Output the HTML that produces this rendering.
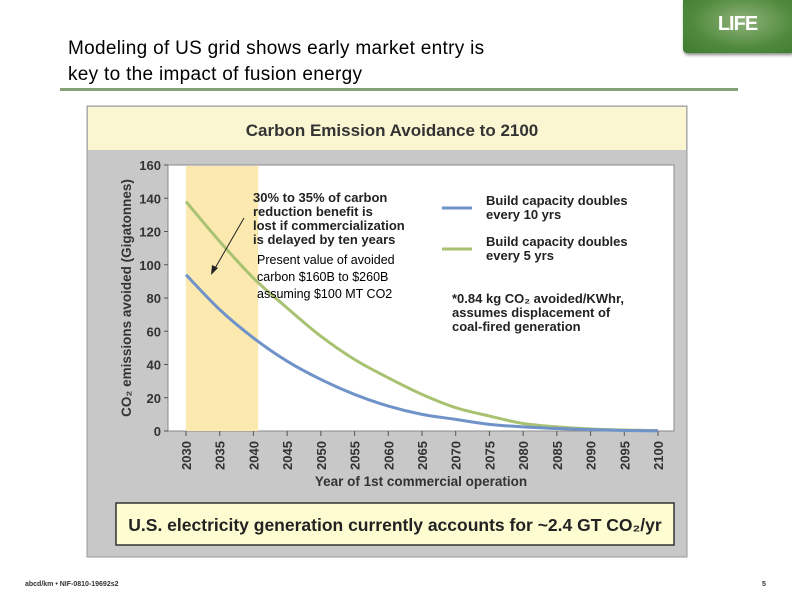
<!DOCTYPE html>
<html><head><meta charset="utf-8"><style>
body{margin:0;width:792px;height:594px;background:#fff;position:relative;overflow:hidden;font-family:"Liberation Sans",Arial,sans-serif}
.abs{position:absolute}
</style></head><body>
<div class="abs" style="left:68px;top:36px;font-size:19px;line-height:26px;color:#000;letter-spacing:0.3px">Modeling of US grid shows early market entry is<br>key to the impact of fusion energy</div>
<div class="abs" style="left:683px;top:0;width:109px;height:53px;background:radial-gradient(ellipse at 55% 40%,#8fb27a,#4f8a3c 60%,#3f7a30);border-radius:0 0 0 4px;box-shadow:1px 2px 3px #888;color:#fff;font-weight:bold;font-size:20px;text-align:center;line-height:48px;letter-spacing:-1px">LIFE</div>
<div class="abs" style="left:60px;top:88px;width:678px;height:3px;background:#86a07a"></div>
<svg class="abs" style="left:0;top:0" width="792" height="594" id="chart">
<rect x="87" y="106" width="600" height="451" fill="#c8c8c8" stroke="#999"/>
<rect x="88" y="107" width="598" height="43" fill="#fbf6d2"/>
<text x="392" y="136" text-anchor="middle" font-size="17" font-weight="bold" fill="#333">Carbon Emission Avoidance to 2100</text>
<rect x="168" y="165" width="506" height="266" fill="#fff" stroke="#888"/>
<g id="plot"></g>
<text transform="translate(131,298) rotate(-90)" text-anchor="middle" font-size="13.5" font-weight="bold" fill="#333">CO₂ emissions avoided (Gigatonnes)</text>
<text x="421" y="486" text-anchor="middle" font-size="13.5" font-weight="bold" fill="#333">Year of 1st commercial operation</text>
<g font-size="13" font-weight="bold" fill="#222">
<text x="253" y="202"><tspan x="253">30% to 35% of carbon</tspan><tspan x="253" dy="14">reduction benefit is</tspan><tspan x="253" dy="14">lost if commercialization</tspan><tspan x="253" dy="14">is delayed by ten years</tspan></text>
<text x="486" y="205"><tspan x="486">Build capacity doubles</tspan><tspan x="486" dy="14">every 10 yrs</tspan></text>
<text x="486" y="246"><tspan x="486">Build capacity doubles</tspan><tspan x="486" dy="14">every 5 yrs</tspan></text>
<text x="452" y="303"><tspan x="452">*0.84 kg CO₂ avoided/KWhr,</tspan><tspan x="452" dy="14">assumes displacement of</tspan><tspan x="452" dy="14">coal-fired generation</tspan></text>
</g>
<text font-size="12.5" fill="#000"><tspan x="257" y="264">Present value of avoided</tspan><tspan x="257" dy="17">carbon $160B to $260B</tspan><tspan x="257" dy="17">assuming $100 MT CO2</tspan></text>
<line x1="442" y1="208" x2="472" y2="208" stroke="#6f93c8" stroke-width="3"/>
<line x1="442" y1="249" x2="472" y2="249" stroke="#a9c271" stroke-width="3"/>
<line x1="244" y1="218" x2="214" y2="270" stroke="#222" stroke-width="1"/>
<polygon points="211,275 212,265 218,268" fill="#222"/>
<rect x="116" y="503" width="558" height="42" fill="#fefdd2" stroke="#333" stroke-width="1.5"/>
<text x="395" y="531" text-anchor="middle" font-size="17.5" font-weight="bold" fill="#222">U.S. electricity generation currently accounts for ~2.4 GT CO₂/yr</text>
<text x="25" y="586" font-size="7" font-weight="bold" fill="#333">abcd/km  •  NIF-0810-19692s2</text>
<text x="762" y="586" font-size="7" font-weight="bold" fill="#333">5</text>
</svg>
<script>
const years=[2030,2035,2040,2045,2050,2055,2060,2065,2070,2075,2080,2085,2090,2095,2100];
const green=[138,114,92,74,57,43,32,22,14,9,4.5,2.5,1.2,0.6,0.2];
const blue=[94,73,56,42,31,22,15,10,7,4,2.5,1.5,0.8,0.3,0.1];
const yTicks=[0,20,40,60,80,100,120,140,160];
const NS='http://www.w3.org/2000/svg';
const X=y=>186+(y-2030)*(658-186)/70;
const Y=v=>431-v*(431-165)/160;
const g=document.getElementById('plot');
function mk(t,a){const e=document.createElementNS(NS,t);for(const k in a)e.setAttribute(k,a[k]);g.appendChild(e);return e;}
const sh=mk('rect',{x:X(2030),y:Y(160)+1,width:X(2040.7)-X(2030),height:Y(0)-Y(160)-1,fill:'#fbe9b0'});


yTicks.forEach(t=>{
 mk('line',{x1:164,x2:168,y1:Y(t),y2:Y(t),stroke:'#555'});
 const tx=mk('text',{x:161,y:Y(t)+5,'text-anchor':'end','font-size':13,'font-weight':'bold',fill:'#333'});
 tx.textContent=t;
 
 
});
years.forEach(yr=>{
 mk('line',{x1:X(yr),x2:X(yr),y1:431,y2:436,stroke:'#555'});
 const tx=mk('text',{transform:`translate(${X(yr)+5},470) rotate(-90)`,'font-size':13,'font-weight':'bold',fill:'#333'});
 tx.textContent=yr;
 
 
});
function line(vals,col,name){
 const pts=years.map((yr,i)=>[X(yr),Y(vals[i])]);
 let d='M'+pts[0][0]+','+pts[0][1];
 for(let i=0;i<pts.length-1;i++){
  const p0=pts[i-1]||pts[i],p1=pts[i],p2=pts[i+1],p3=pts[i+2]||p2;
  const c1=[p1[0]+(p2[0]-p0[0])/6,p1[1]+(p2[1]-p0[1])/6];
  const c2=[p2[0]-(p3[0]-p1[0])/6,p2[1]-(p3[1]-p1[1])/6];
  d+=` C${c1[0]},${c1[1]} ${c2[0]},${c2[1]} ${p2[0]},${p2[1]}`;
 }
 const p=mk('path',{d:d,fill:'none',stroke:col,'stroke-width':3,'stroke-linejoin':'round'});
 
 
}
line(green,'#a9c271','series-doubles-5yrs');
line(blue,'#6f93c8','series-doubles-10yrs');
</script>
</body></html>
